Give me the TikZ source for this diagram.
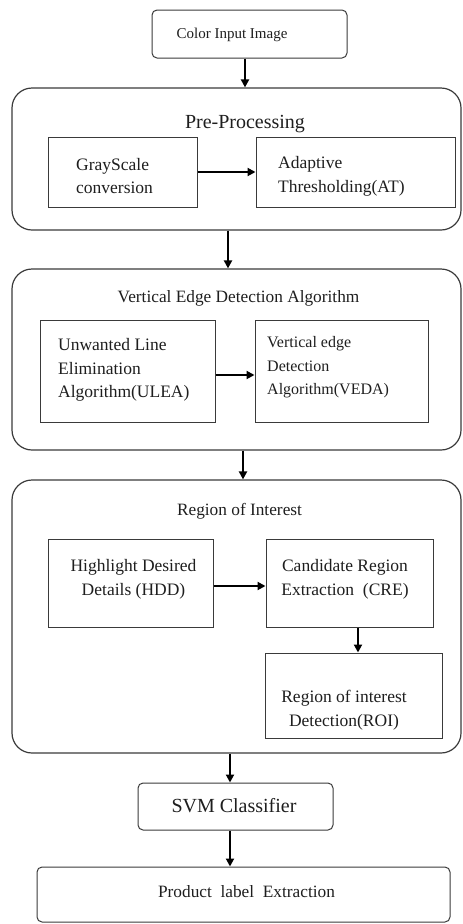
\documentclass[tikz,border=0pt]{standalone}
\usepackage{fontspec}
\setmainfont{Liberation Serif}
\usetikzlibrary{arrows.meta}

\definecolor{inkline}{HTML}{3A3A3A}
\definecolor{inktext}{HTML}{1E1E1E}

\begin{document}
\begin{tikzpicture}[x=1pt,y=-1pt,
  stage/.style={draw=inkline, line width=1.2pt, rounded corners=20pt, inner sep=0pt},
  stepbox/.style={draw=inkline, line width=1pt, inner sep=0pt},
  endbox/.style={draw=inkline, line width=1pt, rounded corners=5pt, inner sep=0pt},
  lbl/.style={inner sep=0pt, text=inktext, font=\fontsize{17.5}{23.5}\selectfont},
  ttl/.style={inner sep=0pt, text=inktext, anchor=base, font=\fontsize{17.3}{20}\selectfont},
  flow/.style={draw=black, line width=2pt, -{Triangle[length=8pt,width=8pt]}}
]
\useasboundingbox (0,0) rectangle (463,924);

% input and output boxes
\node[endbox, minimum width=195pt, minimum height=48pt] (cin) at (249.5,34) {};
\node[ttl, font=\fontsize{15}{18}\selectfont] (cintxt) at (232,38) {Color Input Image};

% stage 1: pre-processing
\node[stage, minimum width=449pt, minimum height=142pt] (pre) at (236.5,159) {};
\node[ttl, font=\fontsize{20}{24}\selectfont] (pretitle) at (245,128) {Pre-Processing};
\node[stepbox, minimum width=149pt, minimum height=70pt] (gray) at (122.5,172) {};
\node[lbl, anchor=west, align=left] (graytxt) at (76,176) {GrayScale\\conversion};
\node[stepbox, minimum width=199pt, minimum height=70pt] (adapt) at (355.5,172) {};
\node[lbl, anchor=west, align=left] (adapttxt) at (278,176.5) {Adaptive\\Thresholding(AT)};

% stage 2: vertical edge detection
\node[stage, minimum width=449pt, minimum height=181pt] (veda) at (236.5,359.5) {};
\node[ttl] (vedatitle) at (238.5,302) {Vertical Edge Detection Algorithm};
\node[stepbox, minimum width=175pt, minimum height=102pt] (ulea) at (127.5,371) {};
\node[lbl, anchor=west, align=left] (uleatxt) at (58,370) {Unwanted Line\\Elimination\\Algorithm(ULEA)};
\node[stepbox, minimum width=173pt, minimum height=102pt] (vedabox) at (341.5,371) {};
\node[lbl, anchor=west, align=left, font=\fontsize{16}{23.5}\selectfont] (vedatxt) at (267,367.5) {Vertical edge\\Detection\\Algorithm(VEDA)};

% stage 3: region of interest
\node[stage, minimum width=449pt, minimum height=273pt] (roiouter) at (236.5,616.5) {};
\node[ttl] (roititle) at (239.5,515) {Region of Interest};
\node[stepbox, minimum width=165pt, minimum height=88pt] (hdd) at (130.5,583) {};
\node[lbl, align=center] (hddtxt) at (133.5,579.5) {Highlight Desired\\Details (HDD)};
\node[stepbox, minimum width=167pt, minimum height=88pt] (cre) at (349.5,583) {};
\node[lbl, align=center] (cretxt) at (345,579.5) {Candidate Region\\Extraction~~(CRE)};
\node[stepbox, minimum width=177pt, minimum height=85pt] (roi) at (353.5,695.5) {};
\node[lbl, align=center] (roitxt) at (344,710) {Region of interest\\Detection(ROI)};

% classifier and final output
\node[endbox, minimum width=195pt, minimum height=47pt] (svm) at (235.5,806.5) {};
\node[ttl, font=\fontsize{20}{24}\selectfont] (svmtxt) at (234,812) {SVM Classifier};
\node[endbox, minimum width=413pt, minimum height=55pt] (prod) at (243.5,894.5) {};
\node[ttl] (prodtxt) at (246.5,897) {Product~~label~~Extraction};

% connectors
\draw[flow] ([xshift=-4.5pt]cin.south) -- ([xshift=-4.5pt]cin.south |- pre.north);
\draw[flow] (gray.east) -- (adapt.west);
\draw[flow] ([xshift=-8.5pt]pre.south) -- ([xshift=-8.5pt]pre.south |- veda.north);
\draw[flow] ([yshift=-4pt]ulea.east) -- ([yshift=-4pt]ulea.east -| vedabox.west);
\draw[flow] ([xshift=6.5pt]veda.south) -- ([xshift=6.5pt]veda.south |- roiouter.north);
\draw[flow] ([yshift=-3pt]hdd.east) -- ([yshift=-3pt]hdd.east -| cre.west);
\draw[flow] ([xshift=8.5pt]cre.south) -- ([xshift=8.5pt]cre.south |- roi.north);
\draw[flow] ([xshift=-6.5pt]roiouter.south) -- ([xshift=-6.5pt]roiouter.south |- svm.north);
\draw[flow] ([xshift=-5.5pt]svm.south) -- ([xshift=-5.5pt]svm.south |- prod.north);
\end{tikzpicture}
\end{document}
